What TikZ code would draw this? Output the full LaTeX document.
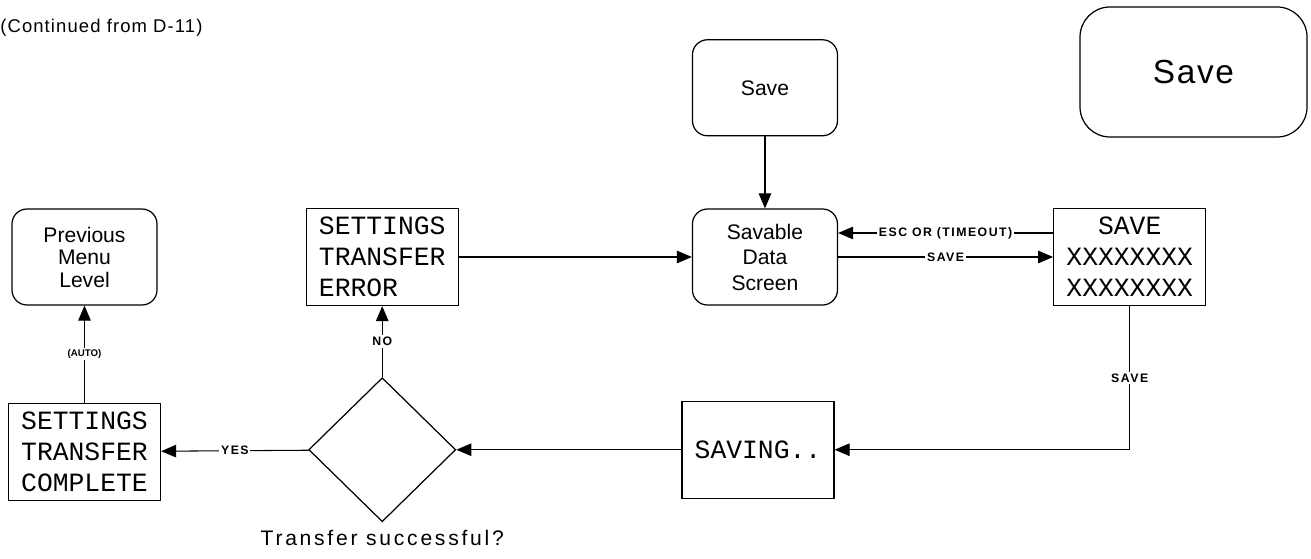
\documentclass[tikz,border=0pt]{standalone}
\usepackage{fontspec}
\setmainfont{Liberation Sans}
\setmonofont{Liberation Mono}
\usetikzlibrary{shapes.geometric, arrows.meta, positioning}
\tikzset{
    menu/.style={rectangle, rounded corners=0.3cm, minimum width=2.9cm, minimum height=1.92cm, align=center, draw=black, line width=0.7pt, font=\fontsize{12}{14.5}\selectfont},
    screen/.style={rectangle, minimum width=3.04cm, minimum height=1.94cm, inner xsep=0.2cm, inner ysep=0.05cm, draw=black, line width=0.7pt, font=\ttfamily\fontsize{15}{17.6}\selectfont},
    decision/.style={diamond, minimum width=2.94cm, minimum height=2.88cm, inner sep=0pt, draw=black, line width=0.7pt},
    arrow/.style={line width=0.6pt, -{Triangle[length=0.3cm, width=0.25cm]}},
    lbl/.style={fill=white, inner sep=1pt, font=\fontsize{7}{8}\selectfont\bfseries\addfontfeature{LetterSpace=12}}
}

\begin{document}
\begin{tikzpicture}
    \useasboundingbox (0,0) rectangle (26.22,-11.18);

    \node (cont) [anchor=west, inner sep=0pt, font=\fontsize{10.5}{12}\selectfont\addfontfeature{LetterSpace=6}] at (0,-0.56) {(Continued from D-11)};

    % top row
    \node (prev) [menu, font=\fontsize{12}{12.8}\selectfont] at (1.69,-5.14) {Previous\\Menu\\Level};
    \node (err) [screen, align=left, right=2.96cm of prev] {SETTINGS\\TRANSFER\\ERROR};
    \node (savable) [menu, right=4.66cm of err] {Savable\\Data\\Screen};
    \node (savebox) [screen, align=center, right=4.3cm of savable] {SAVE\\XXXXXXXX\\XXXXXXXX};
    \node (savetop) [menu, above=1.44cm of savable] {Save};
    \node (bigsave) [menu, rounded corners=0.6cm, minimum width=4.54cm, minimum height=2.6cm, font=\fontsize{19}{22}\selectfont\addfontfeature{LetterSpace=5}] at (23.87,-1.44) {Save};

    % bottom row
    \node (complete) [screen, align=center, below=1.94cm of prev] {SETTINGS\\TRANSFER\\COMPLETE};
    \node (decide) [decision, below=1.42cm of err] {};
    \node (question) [below=0.16cm of decide, inner sep=0pt, font=\fontsize{12}{14}\selectfont\addfontfeature{LetterSpace=13}] {Transfer successful?};
    \node (saving) [screen, right=4.5cm of decide] {SAVING..};

    \coordinate (escpt) at ([yshift=0.48cm]savebox.west);

    \draw [arrow] (savetop) -- (savable);
    \draw [arrow] (escpt) -- node[lbl] {ESC OR (TIMEOUT)} (escpt -| savable.east);
    \draw [arrow] (savable.east) -- node[lbl] {SAVE} (savable.east -| savebox.west);
    \draw [arrow] (savebox.south) |- node[lbl, pos=0.25] {SAVE} (saving.east);
    \draw [arrow] (saving) -- (decide);
    \draw [arrow] (decide) -- node[lbl] {NO} (err);
    \draw [arrow] (decide) -- node[lbl] {YES} (complete);
    \draw [arrow] (complete) -- node[lbl, font=\fontsize{5.5}{6}\selectfont\bfseries] {(AUTO)} (prev);
    \draw [arrow] (err) -- (savable);
\end{tikzpicture}
\end{document}
